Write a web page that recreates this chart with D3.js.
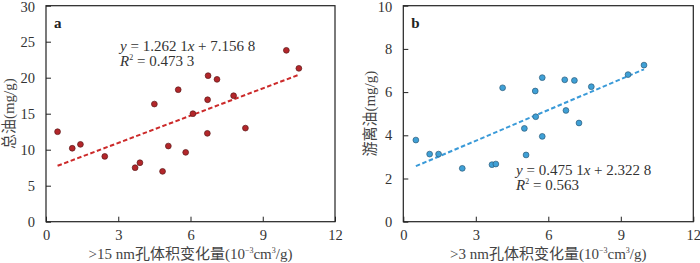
<!DOCTYPE html>
<html>
<head>
<meta charset="utf-8">
<script src="https://cdn.jsdelivr.net/npm/d3@7"></script>
<style>
  body { margin: 0; background: #fff; }
  svg text { font-family: "Liberation Serif", "Times New Roman", "Noto Sans CJK SC", serif; }
  .tick text { font-size: 14.5px; fill: #333; }
  .tick line { stroke: #222; }
</style>
</head>
<body>
<svg id="chart" width="700" height="263"></svg>
<script>
// panel a: total oil vs >15 nm pore volume change
const xA = [0.48, 1.09, 1.43, 2.44, 3.70, 3.90, 4.50, 4.84, 5.08, 5.49, 5.80, 6.10, 6.70, 6.71, 6.73, 7.10, 7.79, 8.28, 9.98, 10.50];
const yA = [12.5, 10.2, 10.74, 9.07, 7.5, 8.19, 16.34, 6.99, 10.51, 18.33, 9.63, 15.0, 12.27, 16.94, 20.28, 19.77, 17.5, 13.0, 23.8, 21.3];
// panel b: free oil vs >3 nm pore volume change
const xB = [0.52, 1.09, 1.46, 2.44, 3.67, 3.83, 4.11, 5.01, 5.08, 5.46, 5.48, 5.75, 5.75, 6.68, 6.73, 7.08, 7.27, 7.78, 9.30, 9.96];
const yB = [3.78, 3.13, 3.13, 2.47, 2.64, 2.67, 6.20, 4.32, 3.09, 6.05, 4.86, 6.67, 3.95, 6.57, 5.15, 6.54, 4.57, 6.25, 6.81, 7.25];

const xTicks = [0, 3, 6, 9, 12];
const yTicksA = [0, 5, 10, 15, 20, 25, 30];
const yTicksB = [0, 2, 4, 6, 8, 10];

// fitted lines as printed on the chart
const fitA = { slope: 1.2621, icept: 7.1568, eq: "1.262 1x + 7.156 8", r2: "0.473 3" };
const fitB = { slope: 0.4751, icept: 2.3228, eq: "0.475 1x + 2.322 8", r2: "0.563" };

const svg = d3.select("#chart");
const plotTop = 5.7, plotBottom = 221.7;

const panels = [
    { key: "a", xs: xA, ys: yA, yTicks: yTicksA, yMax: 30, fit: fitA,
      left: 46, right: 335, fill: "#b3262a", stroke: "#5a1a1a", line: "#cc2a2a",
      xTitle: ">15 nm孔体积变化量", yTitle: "总油(mg/g)", yTitleX: 9,
      eqX: 120, eqY: 51 },
    { key: "b", xs: xB, ys: yB, yTicks: yTicksB, yMax: 10, fit: fitB,
      left: 403.3, right: 693.3, fill: "#3fa0d6", stroke: "#2b5a78", line: "#3a9ad8",
      xTitle: ">3 nm孔体积变化量", yTitle: "游离油(mg/g)", yTitleX: 370,
      eqX: 516, eqY: 175 }
];

panels.forEach(p => {
    const x = d3.scaleLinear().domain([0, 12]).range([p.left, p.right]);
    const y = d3.scaleLinear().domain([0, p.yMax]).range([plotBottom, plotTop]);
    const g = svg.append("g");

    // axes with inward ticks
    g.append("g")
        .attr("transform", `translate(0,${plotBottom})`)
        .call(d3.axisBottom(x).tickValues(xTicks).tickSize(-5).tickPadding(8).tickFormat(d3.format("d")))
        .call(a => a.select(".domain").remove());
    g.append("g")
        .attr("transform", `translate(${p.left},0)`)
        .call(d3.axisLeft(y).tickValues(p.yTicks).tickSize(-5).tickPadding(11).tickFormat(d3.format("d")))
        .call(a => a.select(".domain").remove())
        // keep the top label inside the picture
        .call(a => a.selectAll(".tick text").filter(d => d === p.yMax).attr("dy", "0.42em"));

    // frame
    g.append("rect")
        .attr("x", p.left).attr("y", plotTop)
        .attr("width", p.right - p.left).attr("height", plotBottom - plotTop)
        .attr("fill", "none").attr("stroke", "#222").attr("stroke-width", 1.2);

    // trend line over the data range
    const x0 = d3.min(p.xs), x1 = d3.max(p.xs);
    g.append("line")
        .attr("x1", x(x0)).attr("y1", y(p.fit.slope * x0 + p.fit.icept))
        .attr("x2", x(x1)).attr("y2", y(p.fit.slope * x1 + p.fit.icept))
        .attr("stroke", p.line).attr("stroke-width", 2)
        .attr("stroke-dasharray", "4.5,2.5");

    // points
    g.selectAll(".pt")
        .data(p.xs.map((d, i) => [d, p.ys[i]]))
        .enter()
        .append("circle")
        .attr("class", "pt")
        .attr("cx", d => x(d[0]))
        .attr("cy", d => y(d[1]))
        .attr("r", 2.9)
        .attr("fill", p.fill)
        .attr("stroke", p.stroke)
        .attr("stroke-width", 0.7);

    // panel letter
    g.append("text")
        .attr("x", p.left + 8).attr("y", 28)
        .attr("font-size", 15).attr("font-weight", "bold").attr("fill", "#222")
        .text(p.key);

    // equation, with italic y and x
    const parts = p.fit.eq.split("x");
    const eq = g.append("text")
        .attr("x", p.eqX).attr("y", p.eqY)
        .attr("font-size", 15).attr("fill", "#333");
    eq.append("tspan").attr("font-style", "italic").text("y");
    eq.append("tspan").text(" = " + parts[0]);
    eq.append("tspan").attr("font-style", "italic").text("x");
    eq.append("tspan").text(parts[1]);

    const r2 = g.append("text")
        .attr("x", p.eqX).attr("y", p.eqY + 15)
        .attr("font-size", 15).attr("fill", "#333");
    r2.append("tspan").attr("font-style", "italic").text("R");
    r2.append("tspan").attr("font-size", 8).attr("dy", -6).text("2");
    r2.append("tspan").attr("dy", 6).text(" = " + p.fit.r2);

    // x title
    const xt = g.append("text")
        .attr("x", (p.left + p.right) / 2).attr("y", 259)
        .attr("text-anchor", "middle")
        .attr("font-size", 15).attr("fill", "#444");
    xt.append("tspan").text(p.xTitle + "(10");
    xt.append("tspan").attr("font-size", 8).attr("dy", -6).text("−3");
    xt.append("tspan").attr("dy", 6).text("cm");
    xt.append("tspan").attr("font-size", 8).attr("dy", -6).text("3");
    xt.append("tspan").attr("dy", 6).text("/g)");

    // y title
    g.append("text")
        .attr("transform", `translate(${p.yTitleX},${(plotTop + plotBottom) / 2}) rotate(-90)`)
        .attr("text-anchor", "middle")
        .attr("dominant-baseline", "central")
        .attr("font-size", 15).attr("fill", "#444")
        .text(p.yTitle);
});
</script>
</body>
</html>
